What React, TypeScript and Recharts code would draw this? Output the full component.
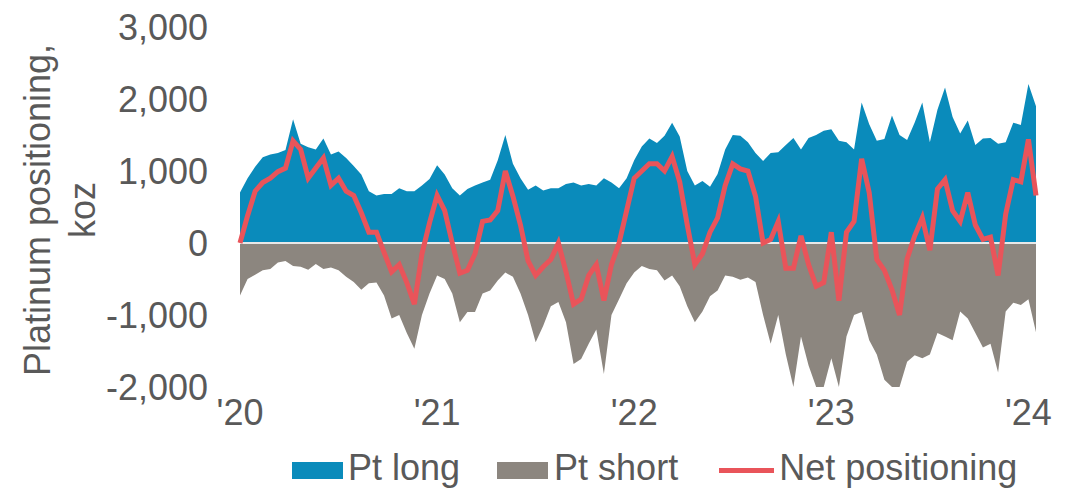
import React from "react";
import {
  ComposedChart,
  Area,
  Line,
  XAxis,
  YAxis,
  Legend,
  ReferenceLine
} from "recharts";

// bi-weekly readings, Jan 2020 to Jan 2024 (koz)
const pointsPerYear = 26;
const startYear = 2020;

const ptLong = [
  // 2020
  700, 900, 1060, 1190, 1230, 1250, 1290, 1720, 1380, 1330, 1300, 1450, 1230,
  1270, 1180, 1070, 950, 720, 660, 680, 680, 760, 720, 720, 800, 890,
  // 2021
  1080, 950, 760, 660, 750, 800, 840, 880, 1150, 1500, 1100, 900, 740,
  800, 730, 760, 760, 820, 840, 800, 820, 800, 900, 840, 760, 900,
  // 2022
  1150, 1340, 1450, 1390, 1490, 1670, 1480, 1000, 800, 860, 780, 960, 1300,
  1500, 1490, 1400, 1250, 1140, 1250, 1260, 1360, 1460, 1300, 1460, 1500, 1560,
  // 2023
  1580, 1420, 1400, 1300, 1950, 1650, 1420, 1445, 1770, 1500, 1430, 1675, 1950,
  1400, 1850, 2160, 1750, 1520, 1700, 1360, 1450, 1460, 1380, 1400, 1670, 1640,
  // 2024
  2210, 1900
];

const ptShort = [
  // 2020
  -730, -500, -440, -380, -360, -270, -250, -320, -330, -370, -290, -360, -340,
  -380, -470, -540, -650, -560, -550, -730, -1050, -1000, -1250, -1470, -1000, -700,
  // 2021
  -450, -500, -700, -1100, -960, -960, -700, -660, -520, -410, -470, -700, -1000,
  -1380, -1150, -880, -820, -1100, -1680, -1610, -1400, -1200, -1820, -1000, -780, -560,
  // 2022
  -410, -320, -360, -380, -520, -450, -600, -880, -1100, -950, -740, -660, -450,
  -470, -510, -480, -540, -1000, -1400, -1000, -1550, -2000, -1300, -1700, -2000, -2000,
  // 2023
  -1600, -2000, -1300, -1000, -960, -1350, -1550, -1900, -2000, -2000, -1650, -1560, -1600,
  -1550, -1250, -1300, -1350, -950, -1050, -1250, -1450, -1400, -1800, -950, -830, -860,
  // 2024
  -780, -1240
];

const netPositioning = [
  // 2020
  0, 380, 720, 840, 900, 990, 1040, 1420, 1300, 900, 1040, 1180, 800,
  900, 720, 660, 420, 150, 150, -130, -400, -300, -550, -850, -150, 280,
  // 2021
  660, 450, 0, -420, -380, -150, 300, 320, 450, 1000, 650, 250, -250,
  -450, -330, -230, 0, -400, -850, -780, -450, -300, -800, -300, 0, 450,
  // 2022
  900, 1000, 1100, 1100, 1000, 1200, 850, 250, -300, -150, 150, 350, 800,
  1100, 1030, 1000, 650, 0, 50, 300, -350, -350, 100, -300, -600, -550,
  // 2023
  150, -800, 150, 300, 1170, 700, -230, -380, -650, -1000, -220, 100, 350,
  -100, 750, 880, 450, 300, 700, 250, 50, 80, -450, 400, 880, 850,
  // 2024
  1440, 660
];

const yearTicks = [2020, 2021, 2022, 2023, 2024];
const valueTicks = [-2000, -1000, 0, 1000, 2000, 3000];

const BLUE = "#0a8bbb";
const GREY = "#8c867f";
const RED = "#e9545a";
const TEXT = "#595959";
const FONT = "'Liberation Sans', Arial, sans-serif";

const chartData = ptLong.map((v, i) => ({
  t: startYear + i / pointsPerYear,
  long: v,
  short: ptShort[i],
  net: netPositioning[i]
}));

const fmt = (v: number) => v.toLocaleString("en-US");

const YTitle = (props: any) => {
  const vb = props.viewBox || { x: 0, y: 27, width: 240, height: 360 };
  const cy = vb.y + vb.height / 2 + 3;
  return (
    <g fill={TEXT} fontSize={36} fontFamily={FONT}>
      <text x={50} y={cy} textAnchor="middle" transform={`rotate(-90, 50, ${cy})`}>
        Platinum positioning,
      </text>
      <text x={95} y={cy} textAnchor="middle" transform={`rotate(-90, 95, ${cy})`}>
        koz
      </text>
    </g>
  );
};

const LegendBox = () => (
  <div
    style={{
      display: "flex",
      alignItems: "center",
      height: 44,
      lineHeight: "44px",
      fontSize: 36,
      fontFamily: FONT,
      color: TEXT,
      whiteSpace: "nowrap"
    }}
  >
    <span style={{ width: 51, height: 17, background: BLUE, marginRight: 5, marginTop: 4 }} />
    <span>Pt long</span>
    <span style={{ width: 51, height: 17, background: GREY, marginLeft: 37, marginRight: 6, marginTop: 4 }} />
    <span>Pt short</span>
    <span style={{ width: 55, height: 5, background: RED, marginLeft: 41, marginRight: 5, marginTop: 4 }} />
    <span>Net positioning</span>
  </div>
);

export default function App() {
  return (
    <div style={{ position: "absolute", left: 0, top: 0, background: "#fff" }}>
      <ComposedChart
        width={1077}
        height={489}
        data={chartData}
        margin={{ top: 27, right: 41, left: 0, bottom: 0 }}
      >
        <XAxis
          dataKey="t"
          type="number"
          domain={[startYear, "dataMax"]}
          ticks={yearTicks}
          tickFormatter={(v: number) => `'${String(v).slice(2)}`}
          axisLine={false}
          tickLine={false}
          tickSize={0}
          tickMargin={12}
          height={102}
          tick={{ fill: TEXT, fontSize: 36, fontFamily: FONT }}
        />
        <YAxis
          domain={[-2000, 3000]}
          ticks={valueTicks}
          tickFormatter={fmt}
          axisLine={false}
          tickLine={false}
          tickSize={0}
          tickMargin={32}
          width={240}
          allowDataOverflow
          tick={{ fill: TEXT, fontSize: 36, fontFamily: FONT }}
          label={{ content: YTitle }}
        />
        <Area
          type="linear"
          dataKey="long"
          name="Pt long"
          stroke="none"
          fill={BLUE}
          fillOpacity={1}
          baseValue={0}
          isAnimationActive={false}
        />
        <Area
          type="linear"
          dataKey="short"
          name="Pt short"
          stroke="none"
          fill={GREY}
          fillOpacity={1}
          baseValue={0}
          isAnimationActive={false}
        />
        <ReferenceLine y={0} stroke="#e8e8e8" strokeWidth={2} />
        <Line
          type="linear"
          dataKey="net"
          name="Net positioning"
          stroke={RED}
          strokeWidth={5}
          dot={false}
          isAnimationActive={false}
        />
        <Legend
          layout="horizontal"
          verticalAlign="middle"
          align="center"
          content={LegendBox}
          wrapperStyle={{ top: 446, left: 292, width: "auto" }}
        />
      </ComposedChart>
    </div>
  );
}
